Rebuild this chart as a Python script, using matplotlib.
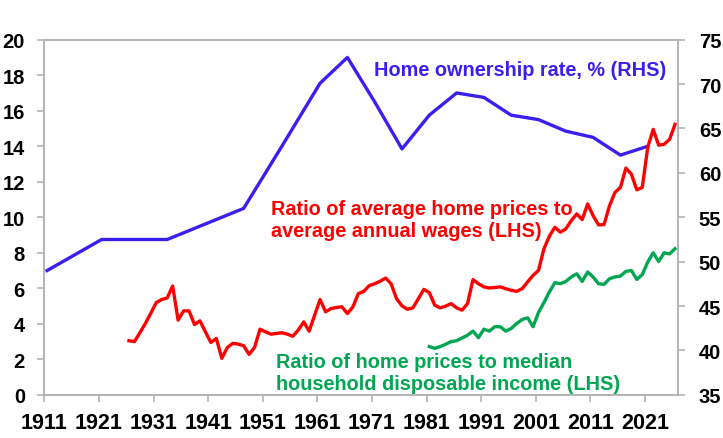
import numpy as np
import matplotlib
matplotlib.use("Agg")
import matplotlib.pyplot as plt

plt.rcParams['font.family'] = ['Liberation Sans', 'DejaVu Sans']
plt.rcParams['font.weight'] = 'bold'

# ratio of average home prices to average annual wages (LHS), annual from 1926
red_years = np.arange(1926, 2027)
red_vals = [3.05, 3.00, 3.50, 4.02, 4.60, 5.20, 5.37, 5.46, 6.13, 4.21,
            4.73, 4.73, 3.96, 4.17, 3.55, 2.95, 3.18, 2.06, 2.66, 2.90,
            2.86, 2.77, 2.28, 2.67, 3.70, 3.55, 3.42, 3.46, 3.50, 3.42,
            3.30, 3.65, 4.11, 3.59, 4.49, 5.37, 4.68, 4.86, 4.92, 4.96,
            4.58, 4.95, 5.70, 5.83, 6.15, 6.26, 6.40, 6.58, 6.26, 5.42,
            5.01, 4.82, 4.90, 5.42, 5.94, 5.76, 5.05, 4.90, 5.00, 5.14,
            4.90, 4.77, 5.14, 6.49, 6.26, 6.08, 6.02, 6.05, 6.08, 5.98,
            5.89, 5.83, 5.98, 6.36, 6.73, 7.01, 8.23, 8.94, 9.44, 9.16,
            9.35, 9.81, 10.19, 9.87, 10.75, 10.09, 9.57, 9.59, 10.65, 11.40,
            11.68, 12.77, 12.43, 11.55, 11.68, 13.93, 14.95, 14.06, 14.11, 14.39,
            15.23]

# ratio of home prices to median household disposable income (LHS), from 1981
green_years = np.arange(1981, 2027)
green_vals = [2.72, 2.62, 2.72, 2.85, 3.00, 3.05, 3.20, 3.36, 3.59, 3.22,
              3.70, 3.59, 3.84, 3.84, 3.59, 3.74, 4.02, 4.24, 4.34, 3.84,
              4.64, 5.20, 5.80, 6.32, 6.26, 6.39, 6.64, 6.82, 6.39, 6.92,
              6.64, 6.26, 6.22, 6.54, 6.64, 6.69, 6.95, 7.01, 6.50, 6.77,
              7.48, 8.00, 7.51, 8.00, 7.94, 8.23]

# home ownership rate, % (RHS), census years
census_years = np.array([1911, 1921, 1933, 1947, 1954, 1961, 1966, 1971, 1976,
                         1981, 1986, 1991, 1996, 2001, 2006, 2011, 2016, 2021])
ownership = [49.0, 52.5, 52.5, 56.0, 63.0, 70.1, 73.0, 68.0, 62.7,
             66.5, 69.0, 68.5, 66.5, 66.0, 64.7, 64.0, 62.0, 63.0]

xticks = np.arange(1911, 2022, 10)

BLUE = '#3a1ff0'
RED = '#ff0000'
GREEN = '#00a651'
GREY = '#b3b3b3'

fig = plt.figure(figsize=(7.23, 4.39), dpi=100)
ax = fig.add_axes([0.0613, 0.0982, 0.8765, 0.8091])
ax2 = ax.twinx()
ax.set_zorder(ax2.get_zorder() + 1)
ax.patch.set_visible(False)

# mid-year points
ax2.plot(np.clip(census_years + 0.5, 1911, None), ownership, color=BLUE, lw=2.4)
ax.plot(red_years + 0.5, red_vals, color=RED, lw=2.4)
ax.plot(green_years + 0.5, green_vals, color=GREEN, lw=2.4)

ax.set_xlim(1911, 2027.05)
ax.set_ylim(0, 20)
ax2.set_ylim(35, 75)
ax.set_xticks(xticks)
ax.set_yticks(np.arange(0, 21, 2))
ax2.set_yticks(np.arange(35, 76, 5))

for a in (ax, ax2):
    for s in a.spines.values():
        s.set_color(GREY)
        s.set_linewidth(1.2)
    a.tick_params(colors=GREY, labelcolor='black', length=5, width=1.2, direction='out')
ax.tick_params(axis='y', labelsize=14.5, pad=9)
ax.tick_params(axis='x', labelsize=15.5, pad=7)
ax2.tick_params(axis='y', labelsize=14.5, pad=10)

ax.text(1971.3, 18.32, 'Home ownership rate, % (RHS)', color=BLUE,
        fontsize=14.3, fontweight='bold', va='center', ha='left')
ax.text(1952.6, 9.88, 'Ratio of average home prices to\naverage annual wages (LHS)',
        color=RED, fontsize=14.3, fontweight='bold', va='center', ha='left', linespacing=1.15)
ax.text(1953.5, 1.26, 'Ratio of home prices to median\nhousehold disposable income (LHS)',
        color=GREEN, fontsize=14.3, fontweight='bold', va='center', ha='left', linespacing=1.2)

fig.savefig('out.png', dpi=100)
